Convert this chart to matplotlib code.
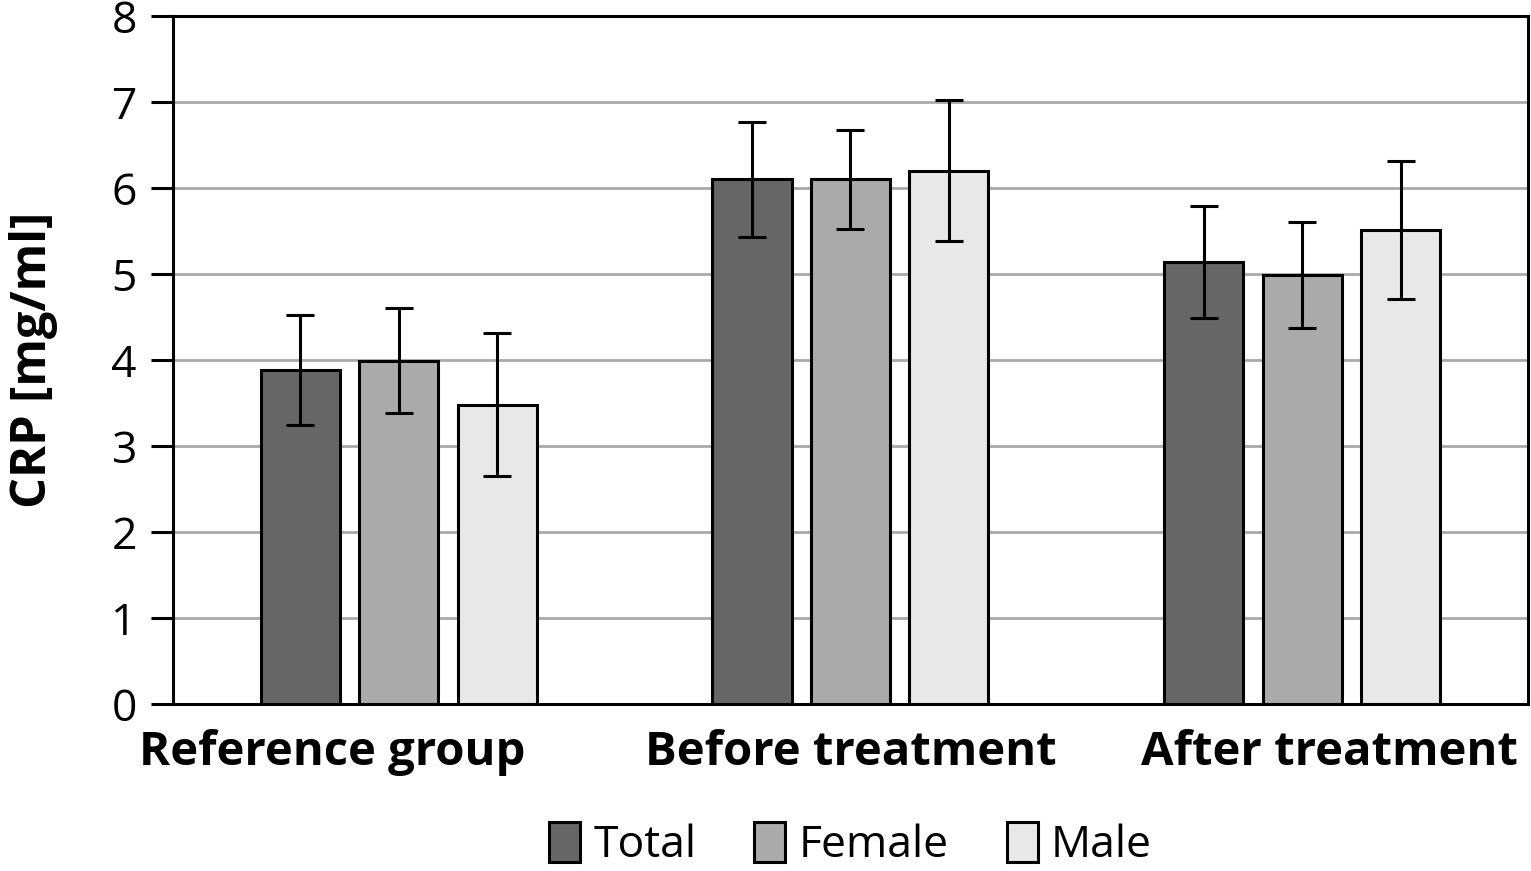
import numpy as np
import matplotlib
matplotlib.use("Agg")
import matplotlib.pyplot as plt
from matplotlib.patches import Patch
from matplotlib.transforms import ScaledTranslation

# data
groups = ["Reference group", "Before treatment", "After treatment"]
series = ["Total", "Female", "Male"]
total = [3.88, 6.10, 5.14]
female = [3.99, 6.10, 4.99]
male = [3.48, 6.20, 5.51]
total_err = [0.64, 0.67, 0.65]
female_err = [0.61, 0.58, 0.62]
male_err = [0.83, 0.82, 0.80]
colors = ["#666666", "#aaaaaa", "#e8e8e8"]


def main():
    plt.rcParams["font.family"] = ["Open Sans", "DejaVu Sans"]

    fig = plt.figure(figsize=(15.31, 8.71), dpi=100)
    ax = fig.add_axes([0.113, 0.1917, 0.885, 0.7899])

    x = np.arange(len(groups))
    width = 0.175
    step = 0.218
    values = [total, female, male]
    errors = [total_err, female_err, male_err]

    for i, (vals, errs) in enumerate(zip(values, errors)):
        ax.bar(x + (i - 1) * step, vals, width, color=colors[i],
               edgecolor="black", linewidth=2.2, zorder=3,
               yerr=errs, capsize=10,
               error_kw=dict(elinewidth=2.2, capthick=2.2, ecolor="black", zorder=4))

    ax.set_xlim(-0.5, 2.5)
    ax.set_ylim(0, 8)
    ax.set_yticks(range(0, 9))
    ax.yaxis.grid(True, color="#aaaaaa", linewidth=2.0, zorder=0)
    ax.set_axisbelow(True)

    for s in ax.spines.values():
        s.set_linewidth(2.2)
        s.set_color("black")

    ax.set_xticks(x)
    ax.set_xticklabels(groups, fontsize=34, fontweight="bold")
    ax.tick_params(axis="x", length=0, pad=18)
    ax.tick_params(axis="y", length=16, width=2.2, direction="out", labelsize=32, pad=10)

    # the original labels are not quite centred under their groups
    shifts = [-0.67, 0.0, 0.27]
    for lab, dx in zip(ax.get_xticklabels(), shifts):
        lab.set_transform(lab.get_transform() + ScaledTranslation(dx, 0, fig.dpi_scale_trans))

    ax.set_ylabel("CRP [mg/ml]", fontsize=35, fontweight="bold")
    ax.yaxis.set_label_coords(-0.085, 0.5)

    handles = [Patch(facecolor=c, edgecolor="black", linewidth=2.2) for c in colors]
    ax.legend(handles, series, loc="center", bbox_to_anchor=(0.5, -0.205),
              ncol=3, frameon=False, fontsize=32, handlelength=0.7, handleheight=1.0,
              handletextpad=0.3, columnspacing=1.3, borderpad=0)

    fig.savefig("out.png", dpi=100)


if __name__ == "__main__":
    main()
